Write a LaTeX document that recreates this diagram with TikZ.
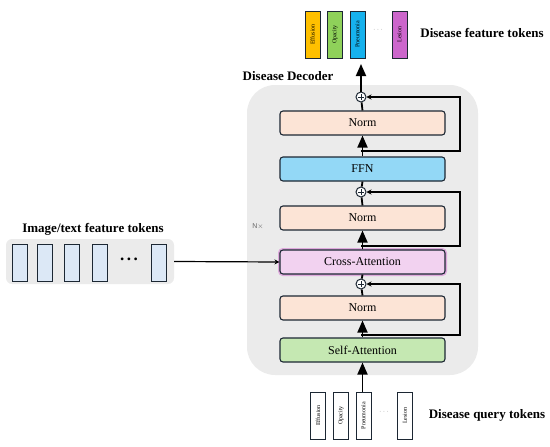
\documentclass[tikz,border=0pt]{standalone}
\usepackage{fontspec}
\setmainfont{Liberation Serif}
\newfontfamily\nxfont{Liberation Sans}
\usetikzlibrary{arrows.meta}
\definecolor{edgeline}{HTML}{1C2733}
\definecolor{panelgray}{HTML}{EBEBEB}
\definecolor{normfill}{HTML}{FCE4D6}
\definecolor{ffnfill}{HTML}{93D8F6}
\definecolor{crossfill}{HTML}{F2D2F0}
\definecolor{crossglow}{HTML}{D98ED6}
\definecolor{selffill}{HTML}{C5E8B2}
\definecolor{imgtokfill}{HTML}{DCE8F6}
\definecolor{effusion}{HTML}{FFC000}
\definecolor{opacity}{HTML}{8FD15A}
\definecolor{pneumonia}{HTML}{16B2EE}
\definecolor{lesion}{HTML}{CC66CC}
\tikzset{
  block/.style={draw=edgeline, line width=1.1pt, rounded corners=3pt, inner sep=0pt,
    minimum width=165pt, minimum height=24pt, font=\fontsize{12}{14}\selectfont},
  addnode/.style={circle, draw=edgeline, fill=white, line width=1pt, inner sep=0pt,
    minimum size=10pt,
    path picture={\draw[line width=0.8pt] ([xshift=-3pt]path picture bounding box.center)
      -- ([xshift=3pt]path picture bounding box.center)
      ([yshift=-3pt]path picture bounding box.center)
      -- ([yshift=3pt]path picture bounding box.center);}},
  tokbox/.style={draw=edgeline, line width=0.8pt, inner sep=0pt, minimum width=15pt,
    minimum height=47pt, font=\fontsize{6}{7}\selectfont},
  imgtok/.style={draw=edgeline, fill=imgtokfill, line width=1pt, inner sep=0pt,
    minimum width=15pt, minimum height=37pt},
  ttl/.style={font=\fontsize{13}{15}\selectfont\bfseries},
  mainline/.style={draw=black, line width=1.8pt},
  bigarrow/.style={mainline, -{Triangle[width=10pt,length=12pt]}},
  skipline/.style={draw=black, line width=1.3pt, -{Stealth[width=5pt,length=5pt]}},
}

\begin{document}
\begin{tikzpicture}[x=1pt, y=-1pt]
  \useasboundingbox (0,0) rectangle (550,447);
  % decoder panel
  \node[fill=panelgray, rounded corners=28pt, minimum width=231pt, minimum height=290pt,
        inner sep=0pt] (decoder) at (362.5,230) {};
  \node[ttl, anchor=base] (dectitle) at (288,80) {Disease Decoder};
  \node[font=\nxfont\fontsize{7}{8}\selectfont, text=gray!80!black] (nx) at (258,227) {N$\times$};
  % blocks
  \node[block, fill=selffill] (selfatt) at (362.5,350) {Self-Attention};
  \node[block, fill=normfill] (norma) at (362.5,308) {Norm};
  \node[addnode] (adda) at (361,284) {};
  \node[block, fill=crossfill, preaction={draw=crossglow, line width=4pt, opacity=0.7}]
        (crossatt) at (362.5,262) {Cross-Attention};
  \node[block, fill=normfill] (normb) at (362.5,218) {Norm};
  \node[addnode] (addb) at (361,192) {};
  \node[block, fill=ffnfill] (ffn) at (362.5,169) {FFN};
  \node[block, fill=normfill] (normc) at (362.5,123) {Norm};
  \node[addnode] (addc) at (361,97) {};
  % taps for the residual paths
  \coordinate (tapa) at (361,335);
  \coordinate (tapb) at (361,246);
  \coordinate (tapc) at (361,151);
  \coordinate (righta) at (460,335);
  \coordinate (rightb) at (460,246);
  \coordinate (rightc) at (460,151);

  % image/text feature tokens
  \node[fill=panelgray, rounded corners=6pt, minimum width=168pt, minimum height=45pt,
        inner sep=0pt] (imgpanel) at (90,261.5) {};
  \node[ttl, anchor=base] (imgtitle) at (93,232) {Image/text feature tokens};
  \node[imgtok] (imga) at (19.5,262.5) {};
  \node[imgtok] (imgb) at (45,262.5) {};
  \node[imgtok] (imgc) at (71.5,262.5) {};
  \node[imgtok] (imgd) at (99.5,262.5) {};
  \node[font=\fontsize{17}{17}\selectfont\bfseries] (imgdots) at (129,259)
        {.\hspace{2.5pt}.\hspace{2.5pt}.};
  \node[imgtok] (imge) at (158.5,262.5) {};

  % disease feature tokens
  \node[tokbox, fill=effusion] (fta) at (312.5,34.5) {\rotatebox{90}{Effusion}};
  \node[tokbox, fill=opacity] (ftb) at (335,34.5) {\rotatebox{90}{Opacity}};
  \node[tokbox, fill=pneumonia] (ftc) at (357.5,34.5) {\rotatebox{90}{Pneumonia}};
  \node[font=\fontsize{7}{7}\selectfont, text=gray] (ftdots) at (378,30) {$\cdots$};
  \node[tokbox, fill=lesion] (ftd) at (399.5,34.5) {\rotatebox{90}{Lesion}};
  \node[ttl] (fttitle) at (482,33) {Disease feature tokens};
  \coordinate (ftarrow) at (361,64);

  % disease query tokens
  \node[tokbox, fill=white] (qta) at (318,415.5) {\rotatebox{90}{Effusion}};
  \node[tokbox, fill=white] (qtb) at (341,415.5) {\rotatebox{90}{Opacity}};
  \node[tokbox, fill=white] (qtc) at (363.5,415.5) {\rotatebox{90}{Pneumonia}};
  \node[font=\fontsize{7}{7}\selectfont, text=gray] (qtdots) at (384,412) {$\cdots$};
  \node[tokbox, fill=white] (qtd) at (405,415.5) {\rotatebox{90}{Lesion}};
  \node[ttl] (qttitle) at (487,415) {Disease query tokens};

  % main stream
  \draw[bigarrow] (selfatt.south |- qtc.north) -- (selfatt.south);
  \draw[bigarrow] (selfatt.north) -- (norma.south);
  \draw[mainline] (norma.north) -- (adda);
  \draw[mainline] (adda) -- (crossatt.south);
  \draw[bigarrow] (crossatt.north) -- (normb.south);
  \draw[mainline] (normb.north) -- (addb);
  \draw[mainline] (addb) -- (ffn.south);
  \draw[bigarrow] (ffn.north) -- (normc.south);
  \draw[mainline] (normc.north) -- (addc);
  \draw[bigarrow] (addc) -- (ftarrow);
  % residual paths
  \draw[skipline] (tapa) -- (righta) |- (adda);
  \draw[skipline] (tapb) -- (rightb) |- (addb);
  \draw[skipline] (tapc) -- (rightc) |- (addc);
  % image/text tokens into cross-attention
  \draw[line width=1.2pt, -{Stealth[width=5pt,length=5pt]}] (imgpanel.east) -- (crossatt.west);
\end{tikzpicture}
\end{document}
